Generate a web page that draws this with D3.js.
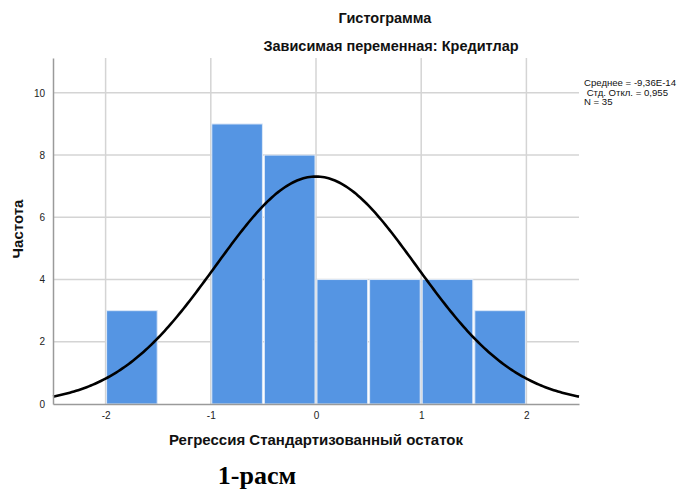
<!DOCTYPE html>
<html>
<head>
<meta charset="utf-8">
<script src="https://cdn.jsdelivr.net/npm/d3@7"></script>
<style>
  html, body { margin: 0; padding: 0; background: #fff; }
  svg { display: block; font-family: "Liberation Sans", Arial, sans-serif; }
</style>
</head>
<body>
<svg id="chart" width="680" height="490"></svg>
<script>
// Histogram bins of the standardized regression residual (bin width 0.5)
const binStarts = [-2, -1.5, -1, -0.5, 0, 0.5, 1, 1.5];
const binWidth = 0.5;
const counts = [3, 0, 9, 8, 4, 4, 4, 3];

// Summary statistics shown in the legend and used for the normal curve
const statMean = -9.36e-14;
const statSd = 0.955;
const statN = 35;
const statLines = ["Среднее = -9,36E-14", " Стд. Откл. = 0,955", "N = 35"];

const xTicks = [-2, -1, 0, 1, 2];
const yTicks = [0, 2, 4, 6, 8, 10];

const svg = d3.select("#chart");
const plot = { left: 53, right: 579, top: 58, bottom: 404 };

const x = d3.scaleLinear().domain([-2.5, 2.5]).range([plot.left, plot.right]);
const y = d3.scaleLinear().domain([0, 11.12]).range([plot.bottom, plot.top]);

// Grid lines
svg.append("g").selectAll("line.hg")
  .data(yTicks.filter(d => d > 0))
  .join("line")
  .attr("x1", plot.left).attr("x2", plot.right)
  .attr("y1", d => y(d)).attr("y2", d => y(d))
  .attr("stroke", "#d4d4d4").attr("stroke-width", 1.5);

svg.append("g").selectAll("line.vg")
  .data(xTicks)
  .join("line")
  .attr("x1", d => x(d)).attr("x2", d => x(d))
  .attr("y1", plot.top).attr("y2", plot.bottom)
  .attr("stroke", "#d4d4d4").attr("stroke-width", 1.5);

// Bars
svg.append("g").selectAll("rect")
  .data(binStarts.map((s, i) => ({ s, c: counts[i] })).filter(d => d.c > 0))
  .join("rect")
  .attr("x", d => x(d.s) + 1)
  .attr("width", d => x(d.s + binWidth) - x(d.s) - 2)
  .attr("y", d => y(d.c))
  .attr("height", d => y(0) - y(d.c))
  .attr("fill", "#5595e3")
  .attr("stroke", "#dce8f7")
  .attr("stroke-width", 1);

// Fitted normal curve scaled to counts
const pdf = v => Math.exp(-0.5 * ((v - statMean) / statSd) ** 2) / (statSd * Math.sqrt(2 * Math.PI));
const curvePts = d3.range(-2.5, 2.5001, 0.02).map(v => [v, statN * binWidth * pdf(v)]);
svg.append("path")
  .datum(curvePts)
  .attr("fill", "none")
  .attr("stroke", "#000")
  .attr("stroke-width", 2.6)
  .attr("d", d3.line().x(d => x(d[0])).y(d => y(d[1])));

// Axes
const xAxis = svg.append("g")
  .attr("transform", `translate(0,${plot.bottom})`)
  .call(d3.axisBottom(x).tickValues(xTicks).tickSize(0).tickPadding(8).tickFormat(d => String(d)));
const yAxis = svg.append("g")
  .attr("transform", `translate(${plot.left},0)`)
  .call(d3.axisLeft(y).tickValues(yTicks).tickSize(0).tickPadding(8).tickFormat(d => String(d)));
[xAxis, yAxis].forEach(a => {
  a.select(".domain").attr("stroke", "#9a9a9a").attr("stroke-width", 1.5);
  a.selectAll("text").attr("font-size", 10).attr("fill", "#222")
    .attr("font-family", "Liberation Sans, Arial, sans-serif");
});

// Titles
svg.append("text").attr("x", 385).attr("y", 23).attr("text-anchor", "middle")
  .attr("font-size", 14.5).attr("font-weight", "bold").attr("fill", "#111").text("Гистограмма");
svg.append("text").attr("x", 391).attr("y", 51).attr("text-anchor", "middle")
  .attr("font-size", 14.5).attr("font-weight", "bold").attr("fill", "#111").text("Зависимая переменная: Кредитлар");

svg.append("text").attr("transform", "translate(23,229) rotate(-90)").attr("text-anchor", "middle")
  .attr("font-size", 15).attr("font-weight", "bold").attr("fill", "#111").text("Частота");
svg.append("text").attr("x", 316).attr("y", 445).attr("text-anchor", "middle")
  .attr("font-size", 15).attr("font-weight", "bold").attr("fill", "#111").text("Регрессия Стандартизованный остаток");

// Statistics legend
svg.append("g").selectAll("text")
  .data(statLines)
  .join("text")
  .attr("x", 584).attr("y", (d, i) => 86 + i * 9.5)
  .attr("font-size", 9.6).attr("fill", "#111")
  .attr("xml:space", "preserve").style("white-space", "pre")
  .text(d => d);

// Figure caption
svg.append("text").attr("x", 257).attr("y", 484).attr("text-anchor", "middle")
  .attr("font-family", "Liberation Serif, serif").attr("font-size", 26).attr("font-weight", "bold")
  .attr("fill", "#000").text("1-расм");
</script>
</body>
</html>
